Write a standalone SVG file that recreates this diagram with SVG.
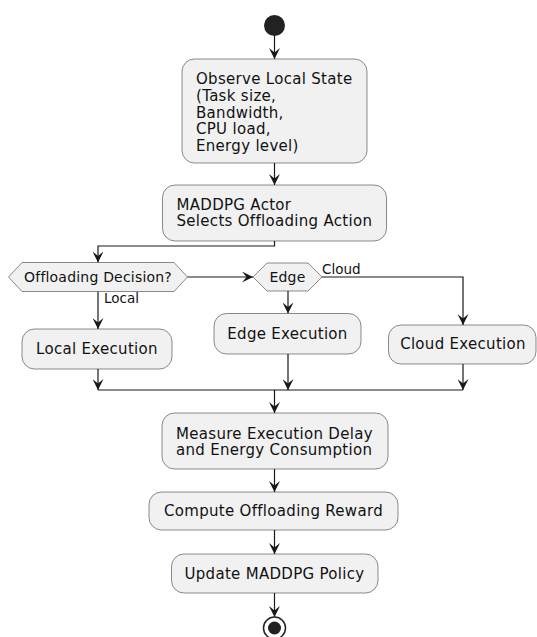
<svg xmlns="http://www.w3.org/2000/svg" width="537" height="637" viewBox="0 0 537 637">
<style>
.box{fill:#F1F1F1;stroke:#181818;stroke-width:0.5}
.t{font-family:"DejaVu Sans",sans-serif;font-size:15px;letter-spacing:0.3px;fill:#111}
.c{text-anchor:middle}
.d{font-family:"DejaVu Sans",sans-serif;font-size:14px;letter-spacing:0.2px;fill:#111;text-anchor:middle}
.l{font-family:"DejaVu Sans",sans-serif;font-size:13.5px;fill:#111}
.e{fill:none;stroke:#181818;stroke-width:1.2;marker-end:url(#arr)}
.n{fill:none;stroke:#181818;stroke-width:1.2}
</style>
<defs>
<marker id="arr" viewBox="0 0 11 11" refX="11" refY="5.5" markerWidth="11" markerHeight="11" markerUnits="userSpaceOnUse" orient="auto">
<path d="M0,0 L11,5.5 L0,11 L4.5,5.5 Z" fill="#181818"/>
</marker>
</defs>
<rect width="537" height="637" fill="#FFFFFF"/>
<g id="connectors">
<path class="e" d="M274.5,35.5 V59"/>
<path class="e" d="M274.5,163 V185"/>
<path class="e" d="M274.5,241 V246 H98 V262.5"/>
<path class="e" d="M187.5,277 H253"/>
<path class="e" d="M98,291.5 V329"/>
<path class="e" d="M288,291 V313.5"/>
<path class="e" d="M322,277 H463 V325"/>
<path class="e" d="M98,369 V390"/>
<path class="e" d="M288,354 V390"/>
<path class="e" d="M463,364 V390"/>
<path class="n" d="M98,390 H463"/>
<path class="e" d="M274.5,390 V413"/>
<path class="e" d="M274.5,469 V492"/>
<path class="e" d="M274.5,530 V554"/>
<path class="e" d="M274.5,593 V617"/>
<text class="l" x="104" y="303">Local</text>
<text class="l" x="322" y="274">Cloud</text>
</g>
<g id="start"><circle cx="274.5" cy="25.5" r="10.5" fill="#222222"/></g>
<g id="observe">
<rect class="box" x="182" y="59" width="185" height="104" rx="12.5"/>
<text class="t" x="196" y="84">Observe Local State</text>
<text class="t" x="196" y="100.8">(Task size,</text>
<text class="t" x="196" y="117.6">Bandwidth,</text>
<text class="t" x="196" y="134.4">CPU load,</text>
<text class="t" x="196" y="151.2">Energy level)</text>
</g>
<g id="actor">
<rect class="box" x="162.5" y="185" width="224" height="56" rx="12.5"/>
<text class="t" x="176.5" y="209.5">MADDPG Actor</text>
<text class="t" x="176.5" y="226.3">Selects Offloading Action</text>
</g>
<g id="decision">
<polygon class="box" points="8.5,277 22,262.5 174,262.5 187.5,277 174,291.5 22,291.5"/>
<text class="d" x="98" y="282">Offloading Decision?</text>
</g>
<g id="edgeDecision">
<polygon class="box" points="253,277 267,263 308,263 322,277 308,291 267,291"/>
<text class="d" x="287.5" y="282">Edge</text>
</g>
<g id="local">
<rect class="box" x="22" y="329" width="150" height="40" rx="12.5"/>
<text class="t c" x="97" y="354">Local Execution</text>
</g>
<g id="edge">
<rect class="box" x="214" y="313.5" width="147" height="40.5" rx="12.5"/>
<text class="t c" x="287.5" y="338.5">Edge Execution</text>
</g>
<g id="cloud">
<rect class="box" x="388.5" y="325" width="147.5" height="39" rx="12.5"/>
<text class="t c" x="463" y="349">Cloud Execution</text>
</g>
<g id="measure">
<rect class="box" x="162" y="413" width="226" height="56" rx="12.5"/>
<text class="t" x="176" y="438.5">Measure Execution Delay</text>
<text class="t" x="176" y="455.3">and Energy Consumption</text>
</g>
<g id="reward">
<rect class="box" x="149" y="492" width="249" height="38" rx="12.5"/>
<text class="t c" x="273.5" y="515.5">Compute Offloading Reward</text>
</g>
<g id="update">
<rect class="box" x="171.5" y="554" width="206.5" height="39" rx="12.5"/>
<text class="t c" x="274.5" y="579">Update MADDPG Policy</text>
</g>
<g id="end">
<circle cx="274.5" cy="628" r="11" fill="none" stroke="#222222" stroke-width="1.5"/>
<circle cx="274.5" cy="628" r="6.5" fill="#222222"/>
</g>
</svg>
